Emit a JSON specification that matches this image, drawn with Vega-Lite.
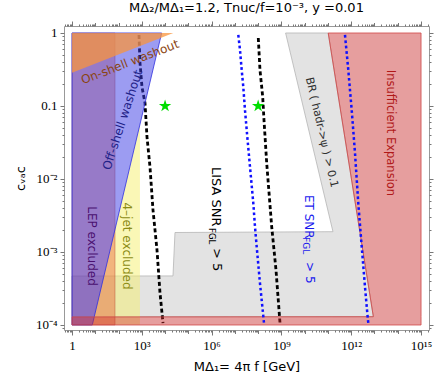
{
  "$schema": "https://vega.github.io/schema/vega-lite/v6.json",
  "width": 365,
  "height": 304,
  "autosize": {"type": "none"},
  "padding": {"left": 64, "top": 26, "right": 7, "bottom": 52},
  "title": {"text": "MΔ₂/MΔ₁=1.2, Tnuc/f=10⁻³, y =0.01", "font": "DejaVu Sans", "fontSize": 13, "fontWeight": "normal", "anchor": "middle", "offset": 6, "color": "#000"},
  "config": {
    "view": {"stroke": "#999", "strokeWidth": 1},
    "axis": {"labelFont": "Liberation Serif", "labelFontSize": 13, "labelColor": "#000", "tickColor": "#777", "domain": false, "grid": false, "titleFont": "DejaVu Sans", "titleFontSize": 13, "titleFontWeight": "normal", "titleColor": "#000", "labelFlush": false, "labelOverlap": false}
  },
  "datasets": {
    "gray": [
      {"y": 1, "x": 1.5136e9, "x2": 1.0233e11},
      {"y": 1.8967e-3, "x": 1.6444e11, "x2": 2.3388e12},
      {"y": 1.8493e-3, "x": 2.6669e4, "x2": 2.3768e12},
      {"y": 4.70e-4, "x": 2.1878e4, "x2": 4.6989e12},
      {"y": 4.68e-4, "x": 1, "x2": 4.6989e12},
      {"y": 1.3002e-4, "x": 1, "x2": 8.9125e12}
    ],
    "red": [
      {"y": 1, "x": 1.0233e11, "x2": 1e15},
      {"y": 1.3002e-4, "x": 8.9125e12, "x2": 1e15},
      {"y": 1.29e-4, "x": 1, "x2": 1e15},
      {"y": 1e-4, "x": 1, "x2": 1e15}
    ],
    "lep": [{"x": 1, "x2": 70.5, "y": 1e-4, "y2": 1}],
    "blue": [
      {"y": 1, "x": 1, "x2": 7145},
      {"y": 1e-4, "x": 1, "x2": 7.447}
    ],
    "orange": [
      {"x": 1, "y": 0.2858, "y2": 1},
      {"x": 22542, "y": 1, "y2": 1}
    ],
    "yellow": [
      {"y": 0.05585, "x": 831.8, "x2": 831.8},
      {"y": 1e-4, "x": 7.447, "x2": 831.8}
    ],
    "black": [
      {"id": "a", "i": 0, "x": 756.8, "y": 0.9397},
      {"id": "a", "i": 1, "x": 835.6, "y": 0.3882},
      {"id": "a", "i": 2, "x": 1018.6, "y": 0.182},
      {"id": "a", "i": 3, "x": 1370.9, "y": 0.1099},
      {"id": "a", "i": 4, "x": 1671.1, "y": 0.03758},
      {"id": "a", "i": 5, "x": 2249, "y": 0.01459},
      {"id": "a", "i": 6, "x": 3027, "y": 0.003758},
      {"id": "a", "i": 7, "x": 4498, "y": 0.001064},
      {"id": "a", "i": 8, "x": 6053, "y": 0.0002742},
      {"id": "a", "i": 9, "x": 8147, "y": 0.0001064},
      {"id": "b", "i": 0, "x": 1.014e8, "y": 0.8551},
      {"id": "b", "i": 1, "x": 1.199e8, "y": 0.3112},
      {"id": "b", "i": 2, "x": 1.567e8, "y": 0.134},
      {"id": "b", "i": 3, "x": 1.782e8, "y": 0.06427},
      {"id": "b", "i": 4, "x": 2.328e8, "y": 0.01656},
      {"id": "b", "i": 5, "x": 3.819e8, "y": 0.002223},
      {"id": "b", "i": 6, "x": 5.848e8, "y": 0.0005662},
      {"id": "b", "i": 7, "x": 8.69e8, "y": 0.0001064}
    ],
    "bluel": [
      {"id": "a", "i": 0, "x": 1.403e7, "y": 0.9397},
      {"id": "a", "i": 1, "x": 1.66e7, "y": 0.5848},
      {"id": "a", "i": 2, "x": 1.963e7, "y": 0.3112},
      {"id": "a", "i": 3, "x": 2.296e7, "y": 0.1837},
      {"id": "a", "i": 4, "x": 2.716e7, "y": 0.0881},
      {"id": "a", "i": 5, "x": 3.412e7, "y": 0.03793},
      {"id": "a", "i": 6, "x": 4.457e7, "y": 0.01472},
      {"id": "a", "i": 7, "x": 6.18e7, "y": 0.004688},
      {"id": "a", "i": 8, "x": 7.311e7, "y": 0.002223},
      {"id": "a", "i": 9, "x": 8.65e7, "y": 0.001183},
      {"id": "a", "i": 10, "x": 1.199e8, "y": 0.0003724},
      {"id": "a", "i": 11, "x": 1.782e8, "y": 0.0001064},
      {"id": "b", "i": 0, "x": 5.395e11, "y": 0.9397},
      {"id": "b", "i": 1, "x": 7.482e11, "y": 0.3112},
      {"id": "b", "i": 2, "x": 1.047e12, "y": 0.0881},
      {"id": "b", "i": 3, "x": 1.452e12, "y": 0.0227},
      {"id": "b", "i": 4, "x": 2.009e12, "y": 0.004688},
      {"id": "b", "i": 5, "x": 2.818e12, "y": 0.001183},
      {"id": "b", "i": 6, "x": 3.899e12, "y": 0.000335},
      {"id": "b", "i": 7, "x": 4.898e12, "y": 0.0001459},
      {"id": "b", "i": 8, "x": 5.408e12, "y": 0.0001064}
    ],
    "stars": [{"x": 1e4, "y": 0.1}, {"x": 1e8, "y": 0.1}]
  },
  "encoding": {
    "x": {"field": "x", "type": "quantitative", "scale": {"type": "log", "domain": [0.453, 2.2e15], "nice": false}, "axis": null},
    "y": {"field": "y", "type": "quantitative", "scale": {"type": "log", "domain": [8.54e-5, 1.247], "nice": false}, "axis": null}
  },
  "layer": [
    {
      "data": {"name": "gray"},
      "mark": {"type": "area", "orient": "horizontal", "fill": "#e3e3e3", "stroke": "#b5b5b5", "strokeWidth": 0.8},
      "encoding": {
        "x": {"field": "x", "type": "quantitative", "scale": {"type": "log", "domain": [0.453, 2.2e15], "nice": false},
          "axis": {"orient": "bottom", "values": [1, 1e3, 1e6, 1e9, 1e12, 1e15], "tickSize": 5, "labelPadding": 4, "labelExpr": "datum.value < 10 ? '1' : datum.value < 1e4 ? '10³' : datum.value < 1e7 ? '10⁶' : datum.value < 1e10 ? '10⁹' : datum.value < 1e13 ? '10¹²' : '10¹⁵'", "title": "MΔ₁= 4π f [GeV]", "titlePadding": 8}},
        "y": {"field": "y", "type": "quantitative", "scale": {"type": "log", "domain": [8.54e-5, 1.247], "nice": false},
          "axis": {"orient": "left", "values": [1e-4, 1e-3, 1e-2, 0.1, 1], "tickSize": 4, "labelPadding": 3, "labelExpr": "datum.value > 0.5 ? '1' : datum.value > 0.05 ? '0.1' : datum.value > 0.005 ? '10⁻²' : datum.value > 0.0005 ? '10⁻³' : '10⁻⁴'", "title": "cᵥₐc", "titlePadding": 8}},
        "x2": {"field": "x2"}
      }
    },
    {
      "data": {"name": "black"},
      "mark": {"type": "line", "color": "#000", "strokeWidth": 2.8, "strokeDash": [4, 2.7]},
      "encoding": {
        "x": {"field": "x", "type": "quantitative", "scale": {"type": "log", "domain": [0.453, 2.2e15], "nice": false},
          "axis": {"orient": "top", "values": [1, 1e3, 1e6, 1e9, 1e12, 1e15], "tickSize": 5, "labels": false, "title": null}},
        "y": {"field": "y", "type": "quantitative", "scale": {"type": "log", "domain": [8.54e-5, 1.247], "nice": false},
          "axis": {"orient": "right", "values": [1e-4, 1e-3, 1e-2, 0.1, 1], "tickSize": 4, "labels": false, "title": null}},
        "detail": {"field": "id"},
        "order": {"field": "i", "type": "quantitative"}
      }
    },
    {
      "data": {"name": "yellow"},
      "mark": {"type": "area", "orient": "horizontal", "fill": "#f5f06e", "fillOpacity": 0.5},
      "encoding": {
        "x": {"field": "x", "type": "quantitative", "scale": {"type": "log", "domain": [0.453, 2.2e15], "nice": false},
          "axis": {"orient": "bottom", "values": [10, 100, 1e4, 1e5, 1e7, 1e8, 1e10, 1e11, 1e13, 1e14], "tickSize": 3.5, "labels": false, "title": null}},
        "y": {"field": "y", "type": "quantitative", "scale": {"type": "log", "domain": [8.54e-5, 1.247], "nice": false},
          "axis": {"orient": "left", "values": [9e-5, 2e-4, 3e-4, 4e-4, 5e-4, 6e-4, 7e-4, 8e-4, 9e-4, 2e-3, 3e-3, 4e-3, 5e-3, 6e-3, 7e-3, 8e-3, 9e-3, 0.02, 0.03, 0.04, 0.05, 0.06, 0.07, 0.08, 0.09, 0.2, 0.3, 0.4, 0.5, 0.6, 0.7, 0.8, 0.9], "tickSize": 2, "labels": false, "title": null}},
        "x2": {"field": "x2"}
      }
    },
    {
      "data": {"name": "lep"},
      "mark": {"type": "rect", "fill": "#e65028", "fillOpacity": 0.4, "stroke": "#b04030", "strokeOpacity": 0.5, "strokeWidth": 0.8},
      "encoding": {
        "x": {"field": "x", "type": "quantitative", "scale": {"type": "log", "domain": [0.453, 2.2e15], "nice": false},
          "axis": {"orient": "top", "values": [10, 100, 1e4, 1e5, 1e7, 1e8, 1e10, 1e11, 1e13, 1e14], "tickSize": 3.5, "labels": false, "title": null}},
        "y": {"field": "y", "type": "quantitative", "scale": {"type": "log", "domain": [8.54e-5, 1.247], "nice": false},
          "axis": {"orient": "right", "values": [9e-5, 2e-4, 3e-4, 4e-4, 5e-4, 6e-4, 7e-4, 8e-4, 9e-4, 2e-3, 3e-3, 4e-3, 5e-3, 6e-3, 7e-3, 8e-3, 9e-3, 0.02, 0.03, 0.04, 0.05, 0.06, 0.07, 0.08, 0.09, 0.2, 0.3, 0.4, 0.5, 0.6, 0.7, 0.8, 0.9], "tickSize": 2, "labels": false, "title": null}},
        "x2": {"field": "x2"},
        "y2": {"field": "y2"}
      }
    },
    {
      "data": {"name": "blue"},
      "mark": {"type": "area", "orient": "horizontal", "fill": "#3c3ce6", "fillOpacity": 0.51, "stroke": "#3030e0", "strokeWidth": 0.8},
      "encoding": {
        "x": {"field": "x", "type": "quantitative", "scale": {"type": "log", "domain": [0.453, 2.2e15], "nice": false},
          "axis": {"orient": "bottom", "values": [0.5, 0.6, 0.7, 0.8, 0.9, 2, 3, 4, 5, 6, 7, 8, 9, 20, 30, 40, 50, 60, 70, 80, 90, 200, 300, 400, 500, 600, 700, 800, 900, 2e3, 3e3, 4e3, 5e3, 6e3, 7e3, 8e3, 9e3, 2e4, 3e4, 4e4, 5e4, 6e4, 7e4, 8e4, 9e4, 2e5, 3e5, 4e5, 5e5, 6e5, 7e5, 8e5, 9e5, 2e6, 3e6, 4e6, 5e6, 6e6, 7e6, 8e6, 9e6, 2e7, 3e7, 4e7, 5e7, 6e7, 7e7, 8e7, 9e7, 2e8, 3e8, 4e8, 5e8, 6e8, 7e8, 8e8, 9e8, 2e9, 3e9, 4e9, 5e9, 6e9, 7e9, 8e9, 9e9, 2e10, 3e10, 4e10, 5e10, 6e10, 7e10, 8e10, 9e10, 2e11, 3e11, 4e11, 5e11, 6e11, 7e11, 8e11, 9e11, 2e12, 3e12, 4e12, 5e12, 6e12, 7e12, 8e12, 9e12, 2e13, 3e13, 4e13, 5e13, 6e13, 7e13, 8e13, 9e13, 2e14, 3e14, 4e14, 5e14, 6e14, 7e14, 8e14, 9e14, 2e15], "tickSize": 2, "labels": false, "title": null}},
        "x2": {"field": "x2"}
      }
    },
    {
      "data": {"name": "orange"},
      "mark": {"type": "area", "orient": "vertical", "fill": "#f8943e", "fillOpacity": 0.75},
      "encoding": {
        "x": {"field": "x", "type": "quantitative", "scale": {"type": "log", "domain": [0.453, 2.2e15], "nice": false},
          "axis": {"orient": "top", "values": [0.5, 0.6, 0.7, 0.8, 0.9, 2, 3, 4, 5, 6, 7, 8, 9, 20, 30, 40, 50, 60, 70, 80, 90, 200, 300, 400, 500, 600, 700, 800, 900, 2e3, 3e3, 4e3, 5e3, 6e3, 7e3, 8e3, 9e3, 2e4, 3e4, 4e4, 5e4, 6e4, 7e4, 8e4, 9e4, 2e5, 3e5, 4e5, 5e5, 6e5, 7e5, 8e5, 9e5, 2e6, 3e6, 4e6, 5e6, 6e6, 7e6, 8e6, 9e6, 2e7, 3e7, 4e7, 5e7, 6e7, 7e7, 8e7, 9e7, 2e8, 3e8, 4e8, 5e8, 6e8, 7e8, 8e8, 9e8, 2e9, 3e9, 4e9, 5e9, 6e9, 7e9, 8e9, 9e9, 2e10, 3e10, 4e10, 5e10, 6e10, 7e10, 8e10, 9e10, 2e11, 3e11, 4e11, 5e11, 6e11, 7e11, 8e11, 9e11, 2e12, 3e12, 4e12, 5e12, 6e12, 7e12, 8e12, 9e12, 2e13, 3e13, 4e13, 5e13, 6e13, 7e13, 8e13, 9e13, 2e14, 3e14, 4e14, 5e14, 6e14, 7e14, 8e14, 9e14, 2e15], "tickSize": 2, "labels": false, "title": null}},
        "y2": {"field": "y2"}
      }
    },
    {
      "data": {"name": "red"},
      "mark": {"type": "area", "orient": "horizontal", "fill": "#c82828", "fillOpacity": 0.45, "stroke": "#d04848", "strokeWidth": 0.8},
      "encoding": {
        "x2": {"field": "x2"}
      }
    },
    {
      "data": {"name": "bluel"},
      "mark": {"type": "line", "color": "#1010ff", "strokeWidth": 2.5, "strokeDash": [2.7, 2.7]},
      "encoding": {
        "detail": {"field": "id"},
        "order": {"field": "i", "type": "quantitative"}
      }
    },
    {
      "data": {"name": "stars"},
      "mark": {"type": "point", "shape": "M0,-1L0.2245,-0.309L0.9511,-0.309L0.3633,0.118L0.5878,0.809L0,0.382L-0.5878,0.809L-0.3633,0.118L-0.9511,-0.309L-0.2245,-0.309Z", "filled": true, "color": "#00dd00", "opacity": 1, "size": 170, "strokeWidth": 0}
    },
    {
      "data": {"values": [{"x": 309, "y": 0.401, "t": "On-shell washout"}]},
      "mark": {"type": "text", "angle": -21, "align": "center", "baseline": "middle", "font": "DejaVu Sans", "fontSize": 12, "color": "#8b4513"},
      "encoding": {"text": {"field": "t"}}
    },
    {
      "data": {"values": [{"x": 148, "y": 0.0646, "t": "Off-shell washout"}]},
      "mark": {"type": "text", "angle": -72, "align": "center", "baseline": "middle", "font": "DejaVu Sans", "fontSize": 12, "color": "#222288"},
      "encoding": {"text": {"field": "t"}}
    },
    {
      "data": {"values": [{"x": 7.24, "y": 0.001208, "t": "LEP excluded"}]},
      "mark": {"type": "text", "angle": 90, "align": "center", "baseline": "middle", "font": "DejaVu Sans", "fontSize": 12, "color": "#4a1070"},
      "encoding": {"text": {"field": "t"}}
    },
    {
      "data": {"values": [{"x": 231, "y": 0.001208, "t": "4–jet excluded"}]},
      "mark": {"type": "text", "angle": 90, "align": "center", "baseline": "middle", "font": "DejaVu Sans", "fontSize": 12, "color": "#8c8c14"},
      "encoding": {"text": {"field": "t"}}
    },
    {
      "data": {"values": [{"x": 4.63e13, "y": 0.0427, "t": "Insufficient Expansion"}]},
      "mark": {"type": "text", "angle": 90, "align": "center", "baseline": "middle", "font": "DejaVu Sans", "fontSize": 11.5, "color": "#b01818"},
      "encoding": {"text": {"field": "t"}}
    },
    {
      "data": {"values": [{"x": 5.27e10, "y": 0.0434, "t": "BR ( hadr->ψ ) > 0.1"}]},
      "mark": {"type": "text", "angle": 77, "align": "center", "baseline": "middle", "font": "DejaVu Sans", "fontSize": 11, "color": "#303030"},
      "encoding": {"text": {"field": "t"}}
    },
    {
      "data": {"values": [{"x": 1.542e6, "y": 0.01459, "t": "LISA SNR"}, {"x": 1.7e6, "y": 0.001135, "t": "> 5"}]},
      "mark": {"type": "text", "angle": 90, "align": "left", "baseline": "middle", "font": "DejaVu Sans", "fontSize": 13, "color": "#000"},
      "encoding": {"text": {"field": "t"}}
    },
    {
      "data": {"values": [{"x": 1.09e6, "y": 0.00213, "t": "FGL"}]},
      "mark": {"type": "text", "angle": 90, "align": "left", "baseline": "middle", "font": "DejaVu Sans", "fontSize": 8.5, "color": "#000"},
      "encoding": {"text": {"field": "t"}}
    },
    {
      "data": {"values": [{"x": 1.53e10, "y": 0.00604, "t": "ET SNR"}, {"x": 1.69e10, "y": 0.000729, "t": "> 5"}]},
      "mark": {"type": "text", "angle": 90, "align": "left", "baseline": "middle", "font": "DejaVu Sans", "fontSize": 12, "color": "#1a1aee"},
      "encoding": {"text": {"field": "t"}}
    },
    {
      "data": {"values": [{"x": 1.14e10, "y": 0.001603, "t": "FGL"}]},
      "mark": {"type": "text", "angle": 90, "align": "left", "baseline": "middle", "font": "DejaVu Sans", "fontSize": 9, "color": "#1a1aee"},
      "encoding": {"text": {"field": "t"}}
    }
  ],
  "resolve": {"axis": {"x": "independent", "y": "independent"}}
}
